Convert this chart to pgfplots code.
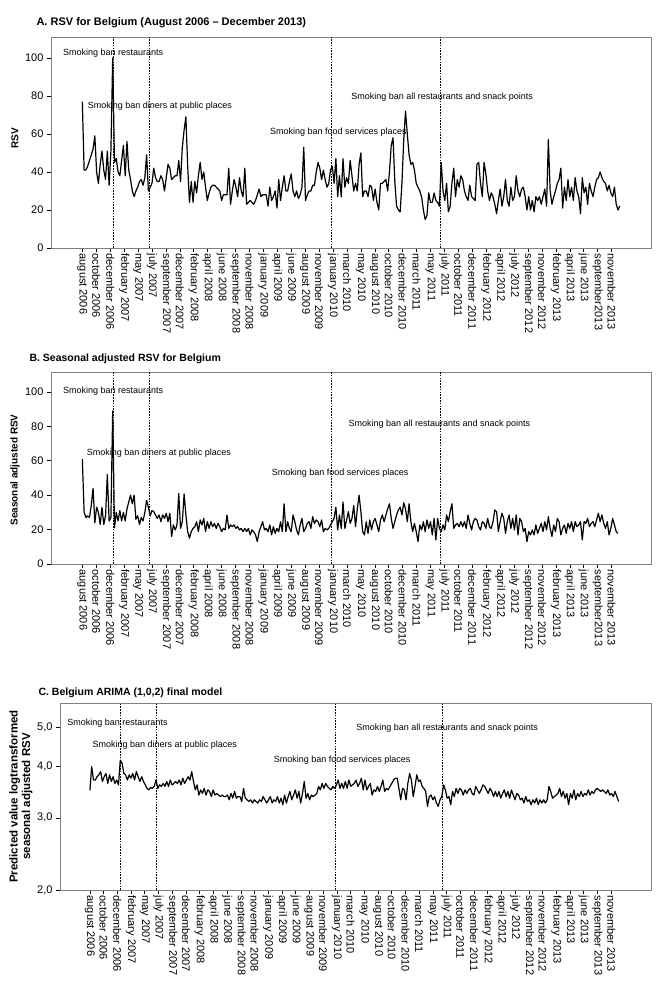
\documentclass[border=0pt]{standalone}
\usepackage{fontspec}
\setmainfont{Liberation Sans}
\usepackage{pgfplots}
\usepackage{pgfplotstable}
\pgfplotsset{compat=1.18}

\newcommand\tkfont{\fontsize{11}{13}\selectfont}
\newcommand\anfont{\fontsize{9}{11}\selectfont}
\newcommand\titlefont{\bfseries\fontsize{10.5}{12}\selectfont}

% weekly series (one value per ~1.3 weeks, week 0 = august 2006)
\pgfplotstableread[header=false,row sep=\\]{
77\\41\\41\\43\\46\\49\\52\\59\\40\\34\\44\\51\\41\\36\\51\\33\\51\\100\\45\\47\\
40\\38\\46\\54\\38\\56\\41\\36\\30\\27\\30\\32\\35\\36\\33\\37\\49\\30\\
32\\34\\42\\37\\35\\35\\38\\36\\30\\37\\44\\42\\36\\37\\38\\38\\46\\35\\53\\62\\
69\\43\\24\\35\\24\\35\\29\\38\\45\\36\\40\\32\\25\\29\\32\\33\\33\\32\\31\\30\\
25\\28\\28\\28\\42\\23\\30\\36\\32\\27\\37\\30\\27\\42\\23\\24\\25\\24\\23\\25\\
28\\31\\27\\28\\28\\28\\22\\32\\25\\27\\30\\21\\36\\25\\32\\38\\30\\30\\35\\39\\
30\\27\\30\\26\\28\\32\\53\\25\\28\\30\\30\\33\\33\\40\\45\\42\\36\\41\\36\\32\\
34\\41\\43\\34\\47\\27\\38\\27\\47\\32\\37\\34\\46\\38\\30\\34\\30\\44\\50\\27\\
30\\30\\27\\33\\32\\25\\31\\24\\20\\34\\34\\35\\36\\30\\40\\54\\58\\35\\22\\20\\
19\\34\\57\\72\\60\\49\\44\\45\\41\\34\\32\\30\\27\\20\\15\\17\\29\\24\\24\\29\\
25\\24\\22\\45\\30\\25\\34\\19\\22\\34\\42\\27\\36\\32\\38\\36\\30\\27\\25\\33\\
27\\26\\25\\44\\45\\34\\27\\45\\39\\30\\25\\29\\27\\23\\18\\25\\31\\22\\27\\36\\
25\\22\\32\\25\\27\\38\\30\\27\\31\\32\\27\\20\\27\\20\\25\\19\\27\\25\\27\\23\\
27\\31\\22\\57\\30\\23\\27\\30\\34\\36\\42\\21\\32\\25\\36\\27\\32\\25\\37\\30\\
27\\18\\37\\29\\32\\23\\34\\30\\27\\32\\36\\37\\40\\37\\35\\34\\30\\33\\29\\27\\
32\\23\\20\\22\\
}\rsvA

\pgfplotstableread[header=false,row sep=\\]{
61\\30\\27\\28\\27\\34\\44\\24\\33\\30\\23\\33\\23\\28\\52\\25\\27\\89\\21\\30\\
25\\31\\25\\30\\25\\32\\36\\40\\35\\40\\26\\28\\23\\27\\25\\30\\37\\33\\28\\31\\
30.4\\28.5\\26.5\\28.5\\24.6\\28.5\\26.5\\29.5\\24.6\\29.5\\16\\22.7\\19.8\\22.7\\41\\20.7\\24.6\\40.7\\28.5\\18.8\\
15\\18.8\\20.7\\21.7\\24.6\\18.8\\25.6\\22.7\\26.5\\18.8\\24.6\\20.7\\24.6\\21.7\\23.6\\20.7\\23.6\\21.7\\18.8\\20.7\\
19.8\\28.5\\20.7\\22.7\\21.7\\22.7\\20.7\\21.7\\19.8\\20.7\\18.8\\20.7\\18.8\\20.7\\16.9\\19.8\\18.8\\16.9\\13\\18.8\\
21.7\\24.6\\19.8\\20.7\\18.8\\22.7\\16.9\\21.7\\17.8\\20.7\\18.8\\24.6\\18.8\\35\\18.8\\24.6\\20.7\\18.8\\28.5\\24.6\\
19.8\\16.9\\22.7\\26.5\\18.8\\20.7\\23.6\\24.6\\20.7\\27.5\\23.6\\25.6\\24.6\\21.7\\25.6\\18.8\\20.7\\19.8\\20.7\\22.7\\
24.6\\26.5\\33\\19.8\\28.5\\20.7\\36\\20.7\\25.6\\30.4\\23.6\\26.5\\34\\21.7\\32\\40\\30.4\\18.8\\16.9\\24.6\\
17.8\\25.6\\19.8\\24.6\\26.5\\22.7\\18.8\\25.6\\28.5\\24.6\\28.5\\32\\35\\26.5\\20.7\\24.6\\28.5\\31.4\\33\\28.5\\
35.6\\32\\24.6\\35\\24.6\\18.8\\23.6\\18.8\\13\\22.7\\19.8\\24.6\\18.8\\25.6\\20.7\\24.6\\16.9\\26.5\\14\\26.5\\
20.7\\18.8\\22.7\\19.8\\28.5\\24.6\\30.4\\35\\20.7\\22.7\\23.6\\21.7\\24.6\\21.7\\24.6\\20.7\\28.5\\23.6\\19.8\\24.6\\
26.5\\25.6\\21.7\\19.8\\24.6\\23.6\\20.7\\26.5\\21.7\\20.7\\24.6\\31.4\\30.4\\18.8\\24.6\\29.5\\26.5\\17.8\\24.6\\28.5\\
20.7\\26.5\\19.8\\28.5\\16.9\\26.5\\24.6\\18.8\\20.7\\13\\18.8\\16.9\\19.8\\16.9\\22.7\\17.8\\20.7\\23.6\\18.8\\24.6\\
19.8\\27.5\\20.7\\16\\22.7\\18.8\\26.5\\24.6\\16.9\\20.7\\22.7\\17.8\\23.6\\20.7\\24.6\\18.8\\24.6\\21.7\\22.7\\24.6\\
14\\24.6\\23.6\\26.5\\21.7\\23.6\\24.6\\21.7\\25.6\\29.5\\24.6\\28.5\\23.6\\20.7\\24.6\\16.9\\20.7\\26.5\\22.7\\18.8\\
17.8\\
}\rsvB

\pgfplotstableread[header=false,row sep=\\]{
3.50\\4.00\\3.71\\3.71\\3.78\\3.82\\3.89\\3.68\\3.78\\3.85\\3.64\\3.82\\3.68\\3.78\\3.64\\3.71\\3.61\\4.15\\4.08\\3.85\\
3.82\\3.71\\3.82\\3.75\\3.85\\3.71\\3.89\\3.78\\3.68\\3.78\\3.68\\3.61\\3.54\\3.51\\3.56\\3.54\\3.58\\3.71\\3.54\\3.61\\
3.58\\3.64\\3.58\\3.68\\3.58\\3.71\\3.61\\3.64\\3.68\\3.64\\3.71\\3.61\\3.75\\3.64\\3.71\\3.78\\3.71\\3.89\\3.68\\3.51\\
3.61\\3.41\\3.51\\3.44\\3.54\\3.41\\3.51\\3.48\\3.38\\3.51\\3.41\\3.44\\3.41\\3.38\\3.41\\3.38\\3.38\\3.41\\3.32\\3.44\\
3.35\\3.48\\3.35\\3.38\\3.38\\3.29\\3.54\\3.35\\3.32\\3.29\\3.32\\3.26\\3.32\\3.29\\3.26\\3.32\\3.29\\3.38\\3.32\\3.26\\
3.32\\3.38\\3.26\\3.32\\3.29\\3.38\\3.26\\3.35\\3.23\\3.41\\3.26\\3.38\\3.48\\3.32\\3.41\\3.51\\3.35\\3.48\\3.26\\3.44\\
3.68\\3.35\\3.44\\3.32\\3.41\\3.38\\3.41\\3.44\\3.58\\3.51\\3.64\\3.54\\3.64\\3.58\\3.54\\3.51\\3.58\\3.54\\3.61\\3.71\\
3.54\\3.64\\3.54\\3.68\\3.54\\3.71\\3.58\\3.61\\3.64\\3.71\\3.58\\3.64\\3.75\\3.51\\3.71\\3.51\\3.58\\3.64\\3.41\\3.51\\
3.48\\3.58\\3.48\\3.58\\3.71\\3.48\\3.54\\3.51\\3.58\\3.64\\3.71\\3.75\\3.75\\3.54\\3.32\\3.54\\3.51\\3.32\\3.64\\3.85\\
3.71\\3.38\\3.58\\3.82\\3.68\\3.71\\3.58\\3.54\\3.48\\3.20\\3.38\\3.41\\3.32\\3.38\\3.26\\3.20\\3.32\\3.38\\3.61\\3.51\\
3.35\\3.38\\3.23\\3.48\\3.38\\3.54\\3.44\\3.54\\3.51\\3.41\\3.51\\3.44\\3.51\\3.54\\3.44\\3.41\\3.58\\3.51\\3.44\\3.51\\
3.61\\3.58\\3.51\\3.44\\3.54\\3.48\\3.38\\3.48\\3.38\\3.48\\3.35\\3.44\\3.51\\3.38\\3.48\\3.35\\3.51\\3.41\\3.32\\3.44\\
3.41\\3.32\\3.35\\3.26\\3.38\\3.29\\3.32\\3.23\\3.32\\3.26\\3.35\\3.23\\3.32\\3.26\\3.32\\3.26\\3.32\\3.58\\3.48\\3.35\\
3.38\\3.41\\3.44\\3.54\\3.38\\3.48\\3.35\\3.44\\3.23\\3.44\\3.35\\3.51\\3.32\\3.44\\3.38\\3.48\\3.38\\3.44\\3.41\\3.51\\
3.41\\3.48\\3.44\\3.51\\3.54\\3.51\\3.48\\3.51\\3.48\\3.44\\3.51\\3.41\\3.44\\3.38\\3.48\\3.38\\3.29\\
}\arimaC

\tikzset{
  ban/.style={black, line width=0.5pt, dash pattern=on 1.6pt off 1.2pt},
  note/.style={anchor=west, inner sep=0pt, font=\anfont},
}
\pgfplotsset{
  panel/.style={
    scale only axis, anchor=south west,
    axis line style={draw=black!50, line width=0.8pt},
    tick align=outside, xtick pos=left, ytick pos=left,
    major tick length=4pt,
    every tick/.style={black, line width=0.6pt},
    tick label style={font=\tkfont},
    /pgf/number format/assume math mode=true,
    xtick={0,10,...,380},
    xticklabel style={rotate=-90, anchor=west, inner xsep=1.5pt},
    ylabel style={font=\bfseries\fontsize{10}{12}\selectfont, anchor=center, align=center},
  },
  series/.style={black, line width=1.2pt, line join=round, no markers},
}

\def\monthsAB{august 2006,october 2006,december 2006,february 2007,may 2007,july 2007,september 2007,december 2007,february 2008,april 2008,june 2008,september 2008,november 2008,january 2009,april 2009,june 2009,august 2009,november 2009,january 2010,march 2010,may 2010,august 2010,october 2010,december 2010,march 2011,may 2011,july 2011,october 2011,december 2011,february 2012,april 2012,july 2012,september 2012,november 2012,february 2013,april 2013,june 2013,september2013,november 2013}

\begin{document}
\begin{tikzpicture}
\useasboundingbox (0,0) rectangle (656pt,995pt);

% A
\node[anchor=west, font=\bfseries\fontsize{11}{13}\selectfont] at (33pt,972pt) {A. RSV for Belgium (August 2006 -- December 2013)};
\begin{axis}[panel, at={(51pt,747pt)}, width=600pt, height=211pt,
    xmin=-22.5, xmax=408.3, ymin=0, ymax=111, ytick={0,20,...,100},
    xticklabels/.expand once=\monthsAB,
    ylabel={RSV}, ylabel style={at={(axis description cs:-0.06,0.52)}}]
\addplot[series] table[x expr=\coordindex*1.282, y index=0] {\rsvA};
\pgfplotsinvokeforeach{22.3,48.2,178.8,256.8}{\draw[ban] (axis cs:#1,0) -- (axis cs:#1,111);}
\node[note] at (axis cs:-14,102.5) {Smoking ban restaurants};
\node[note] at (axis cs:3.8,74.4) {Smoking ban diners at public places};
\node[note] at (axis cs:134.6,60.9) {Smoking ban food services places};
\node[note] at (axis cs:193,79.6) {Smoking ban all restaurants and snack points};
\end{axis}

% B
\node[anchor=west, font=\titlefont] at (26pt,636pt) {B. Seasonal adjusted RSV for Belgium};
\begin{axis}[panel, at={(51pt,431pt)}, width=600pt, height=192pt,
    xmin=-22.5, xmax=408.3, ymin=0, ymax=111.6, ytick={0,20,...,100},
    xticklabels/.expand once=\monthsAB,
    ylabel={Seasonal adjusted RSV}, ylabel style={at={(axis description cs:-0.06,0.49)}}]
\addplot[series] table[x expr=\coordindex*1.282, y index=0] {\rsvB};
\pgfplotsinvokeforeach{22.3,48.2,178.8,256.8}{\draw[ban] (axis cs:#1,0) -- (axis cs:#1,111.6);}
\node[note] at (axis cs:-14,100.2) {Smoking ban restaurants};
\node[note] at (axis cs:3.1,64.4) {Smoking ban diners at public places};
\node[note] at (axis cs:135.9,52.7) {Smoking ban food services places};
\node[note] at (axis cs:191,81.2) {Smoking ban all restaurants and snack points};
\end{axis}

% C
\node[anchor=west, font=\titlefont] at (35pt,302pt) {C. Belgium ARIMA (1,0,2) final model};
\begin{axis}[panel, at={(60pt,105pt)}, width=591pt, height=187pt,
    xmin=-21.8, xmax=409, ymode=log, ymin=2, ymax=5.72,
    ytick={2,3,4,5}, yticklabels={{2,0},{3,0},{4,0},{5,0}}, yminorticks=false,
    xticklabels={august 2006,october 2006,december 2006,february 2007,may 2007,july 2007,september 2007,december 2007,february 2008,april 2008,june 2008,september 2008,november 2008,january 2009,april 2009,june 2009,august 2009,november 2009,january 2010,march 2010,may 2010,august 2010,october 2010,december 2010,march 2011,may 2011,july 2011,october 2011,december 2011,february 2012,april 2012,july 2012,september 2012,november 2012,february 2013,april 2013,june 2013,september 2013,november 2013},
    ylabel={Predicted value logtransformed\\seasonal adjusted RSV},
    ylabel style={at={(axis description cs:-0.066,0.5)}, font=\bfseries\fontsize{11.5}{12.5}\selectfont}]
\addplot[series] table[x expr=\coordindex*1.302, y index=0] {\arimaC};
\pgfplotsinvokeforeach{22.3,48.2,178.8,256.8}{\draw[ban] (axis cs:#1,2) -- (axis cs:#1,5.72);}
\node[note] at (axis cs:-16.5,5.10) {Smoking ban restaurants};
\node[note] at (axis cs:1.9,4.52) {Smoking ban diners at public places};
\node[note] at (axis cs:134,4.15) {Smoking ban food services places};
\node[note] at (axis cs:194,4.96) {Smoking ban all restaurants and snack points};
\end{axis}
\end{tikzpicture}
\end{document}
